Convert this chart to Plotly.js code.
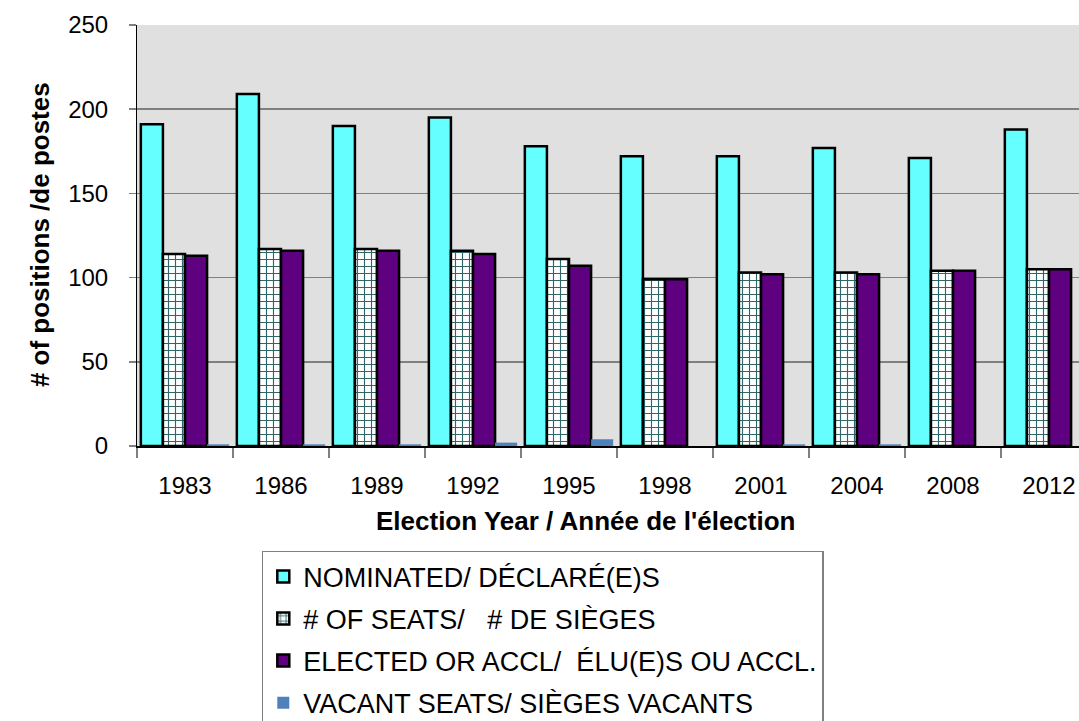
<!DOCTYPE html>
<html>
<head>
<meta charset="utf-8">
<script src="https://cdn.plot.ly/plotly-3.0.1.min.js"></script>
<style>
  html, body { margin: 0; padding: 0; overflow: hidden; background: #fff; }
  #chart { width: 1100px; height: 760px; }
</style>
</head>
<body>
<div id="chart"></div>
<script>
const years = ['1983', '1986', '1989', '1992', '1995', '1998', '2001', '2004', '2008', '2012'];
const nominated = [191, 209, 190, 195, 178, 172, 172, 177, 171, 188];
const seats = [114, 117, 117, 116, 111, 99, 103, 103, 104, 105];
const elected = [113, 116, 116, 114, 107, 99, 102, 102, 104, 105];
const vacant = [1, 1, 1, 2, 4, 0, 1, 1, 0, 0];

const seriesNames = [
  'NOMINATED/ DÉCLARÉ(E)S',
  '# OF SEATS/\u00a0\u00a0\u00a0# DE SIÈGES',
  'ELECTED OR ACCL/\u00a0\u00a0ÉLU(E)S OU ACCL.',
  'VACANT SEATS/ SIÈGES VACANTS'
];
const yTicks = [0, 50, 100, 150, 200, 250];

const outline = { color: '#000000', width: 2.5 };
const traces = [
  { type: 'bar', name: seriesNames[0], x: years, y: nominated, legendgroup: 'a',
    marker: { color: '#66FFFF', line: outline } },
  { type: 'bar', name: seriesNames[1], x: years, y: seats, legendgroup: 'b',
    marker: { color: '#FFFFFF', line: outline,
      pattern: { shape: '+', fgcolor: '#2F6666', bgcolor: '#FFFFFF', size: 7, solidity: 0.3, fillmode: 'replace' } } },
  { type: 'bar', name: seriesNames[2], x: years, y: elected, legendgroup: 'c',
    marker: { color: '#5E0080', line: outline } },
  { type: 'bar', name: seriesNames[3], x: years, y: vacant, legendgroup: 'd',
    marker: { color: '#4F81BD', line: { width: 0 } } }
];

const layout = {
  width: 1100, height: 760,
  margin: { l: 137, r: 3, t: 25, b: 314 },
  paper_bgcolor: '#FFFFFF',
  plot_bgcolor: '#E0E0E0',
  font: { family: 'Liberation Sans, Arial, sans-serif', color: '#000000' },
  barmode: 'group',
  bargap: 0.08,
  bargroupgap: 0,
  showlegend: true,
  legend: {
    x: 0.13, y: -0.249, xanchor: 'left', yanchor: 'top',
    bgcolor: '#FFFFFF', bordercolor: '#808080', borderwidth: 1.5,
    font: { size: 27, color: '#000000' },
    traceorder: 'grouped', tracegroupgap: 4
  },
  xaxis: {
    type: 'category',
    tickson: 'boundaries',
    ticks: 'outside', ticklen: 10, tickcolor: '#808080', tickwidth: 1.5,
    tickfont: { size: 24 },
    ticklabelstandoff: 18,
    showline: true, linecolor: '#000000', linewidth: 1.5,
    showgrid: false, zeroline: false
  },
  yaxis: {
    range: [0, 250],
    tickvals: yTicks,
    ticktext: yTicks.map(String),
    ticks: 'outside', ticklen: 7, tickcolor: '#808080', tickwidth: 1.5,
    tickfont: { size: 24 },
    ticklabelstandoff: 16,
    showline: true, linecolor: '#000000', linewidth: 1,
    showgrid: true, gridcolor: '#808080', gridwidth: 1.5,
    zeroline: false
  },
  annotations: [
    { text: '<b>Election Year / Année de l\'élection</b>', xref: 'paper', yref: 'paper',
      x: 0.4667, y: -0.178, xanchor: 'center', yanchor: 'middle', showarrow: false,
      font: { size: 26, color: '#000000' } },
    { text: '<b># of positions /de postes</b>', xref: 'paper', yref: 'paper',
      x: -0.101, y: 0.501, xanchor: 'center', yanchor: 'middle', showarrow: false,
      textangle: -90, font: { size: 26, color: '#000000' } }
  ]
};

Plotly.newPlot('chart', traces, layout, { displayModeBar: false, staticPlot: true });
</script>
</body>
</html>
